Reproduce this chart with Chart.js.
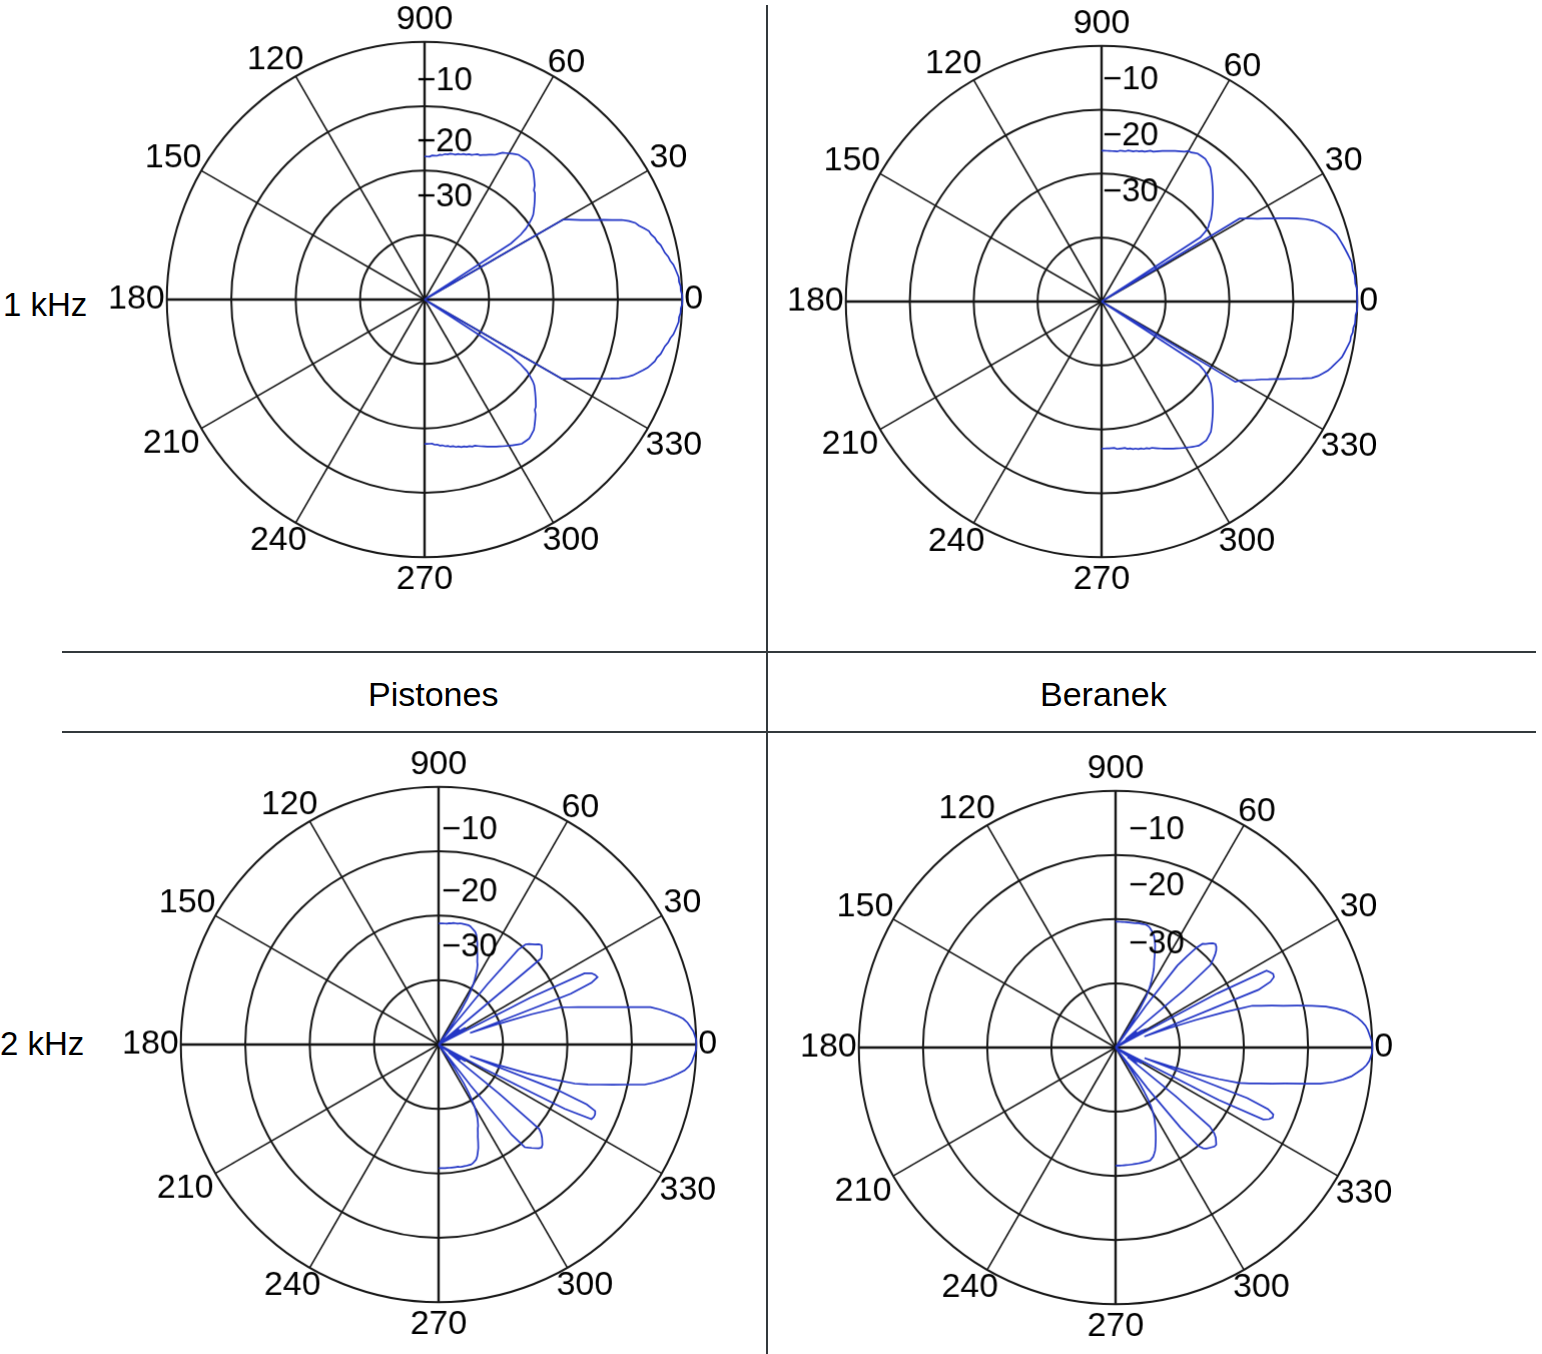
<!DOCTYPE html>
<html>
<head>
<meta charset="utf-8">
<script src="https://cdn.jsdelivr.net/npm/chart.js@4/dist/chart.umd.min.js"></script>
<style>
html,body{margin:0;padding:0;background:#fff;}
body{width:1542px;height:1354px;position:relative;overflow:hidden;font-family:"Liberation Sans",Arial,sans-serif;}
canvas{position:absolute;}
.txt{position:absolute;color:#000;white-space:nowrap;line-height:40px;}
.line{position:absolute;background:#33393c;}
</style>
</head>
<body>
<div class="line" style="left:766px;top:5px;width:2px;height:1349px"></div>
<div class="line" style="left:62px;top:651px;width:1474px;height:2px"></div>
<div class="line" style="left:62px;top:731px;width:1474px;height:2px"></div>
<div class="txt" style="left:3px;top:285px;font-size:33px">1 kHz</div>
<div class="txt" style="left:0px;top:1024px;font-size:33px">2 kHz</div>
<div class="txt" style="left:368px;top:674px;font-size:34px">Pistones</div>
<div class="txt" style="left:1040px;top:674px;font-size:34px">Beranek</div>
<script>
// angular tick labels (as printed on the figure) and radial tick labels
const angleTickLabels = ['0','30','60','900','120','150','180','210','240','270','300','330'];
const radialTickLabels = ['\u221210','\u221220','\u221230'];

// level in dB versus off-axis angle (index = degrees 0..90), upper side (0..90) and lower side (0..-90)
const p1kUpper = [0, 0, -0.2, -0.2, -0.4, -0.4, -0.6, -0.8, -1.0, -1.4,
 -1.6, -2.0, -2.2, -2.4, -2.8, -3.0, -3.4, -3.6, -4.2, -4.8,
 -5.2, -6.0, -7.0, -8.4, -9.6, -10.8, -11.8, -12.8, -13.6, -14.4,
 -15.2, -40, -40, -24, -22, -20.8, -20, -19.2, -18.6, -18.2,
 -17.8, -17.4, -17, -16.6, -16.2, -16, -15.4, -15, -14.6, -14.2,
 -13.8, -13.6, -13.4, -13.2, -13.2, -13.2, -13.2, -13.2, -13.4, -13.6,
 -13.8, -14, -14.2, -14.6, -15, -15.2, -15.4, -15.6, -15.8, -16,
 -16, -16.2, -16.4, -16.4, -16.6, -16.6, -16.8, -16.8, -17, -17,
 -17, -17.2, -17.2, -17.4, -17.4, -17.6, -17.6, -17.6, -17.8, -17.8,
 -17.8];
const p1kLower = [0, 0, -0.2, -0.2, -0.4, -0.4, -0.6, -0.8, -1.0, -1.4,
 -1.6, -2.0, -2.2, -2.4, -2.8, -3.0, -3.4, -3.8, -4.4, -5.0,
 -5.6, -6.4, -7.4, -8.6, -9.8, -11.0, -12.0, -13.0, -13.8, -14.6,
 -15.4, -40, -40, -24, -22, -20.6, -19.8, -19.0, -18.4, -18.0,
 -17.6, -17.2, -16.8, -16.4, -16.0, -15.8, -15.2, -14.8, -14.4, -14.0,
 -13.6, -13.4, -13.2, -13.0, -13.0, -13.0, -13.0, -13.2, -13.4, -13.6,
 -13.8, -14.0, -14.2, -14.4, -14.6, -14.8, -15.0, -15.2, -15.4, -15.6,
 -15.8, -16.0, -16.0, -16.2, -16.2, -16.4, -16.4, -16.6, -16.6, -16.8,
 -16.8, -17.0, -17.0, -17.2, -17.2, -17.4, -17.4, -17.6, -17.6, -17.6,
 -17.6];
const b1kUpper = [0, 0, 0, 0, -0.2, -0.2, -0.2, -0.4, -0.4, -0.4,
 -0.6, -0.8, -1.0, -1.2, -1.4, -1.6, -1.8, -2.2, -2.6, -3.2,
 -3.8, -4.6, -5.6, -6.8, -8.0, -9.2, -10.4, -11.4, -12.4, -13.2,
 -14.0, -14.8, -40, -21.6, -20.4, -19.6, -19.2, -18.6, -18.2, -17.8,
 -17.4, -17.0, -16.6, -16.2, -15.8, -15.4, -15.0, -14.6, -14.2, -13.8,
 -13.4, -13.0, -12.8, -12.6, -12.4, -12.4, -12.4, -12.4, -12.6, -12.8,
 -12.8, -13.2, -13.4, -13.6, -13.8, -14.0, -14.2, -14.4, -14.6, -14.8,
 -15.0, -15.2, -15.2, -15.4, -15.6, -15.6, -15.8, -15.8, -16.0, -16.0,
 -16.0, -16.2, -16.2, -16.2, -16.4, -16.4, -16.4, -16.4, -16.4, -16.4,
 -16.4];
const b1kLower = [0, 0, 0, -0.2, -0.2, -0.2, -0.4, -0.4, -0.6, -0.6,
 -0.8, -1.0, -1.2, -1.4, -1.8, -2.2, -2.6, -3.0, -3.6, -4.2,
 -5.0, -6.4, -7.8, -9.0, -10.2, -11.2, -12.2, -13.0, -13.8, -14.6,
 -15.2, -15.6, -40, -21.8, -20.6, -19.8, -19.2, -18.6, -18.2, -17.8,
 -17.4, -17.0, -16.6, -16.2, -15.8, -15.4, -15.0, -14.6, -14.2, -13.8,
 -13.4, -13.2, -13.0, -12.8, -12.8, -12.8, -12.8, -13.0, -13.2, -13.4,
 -13.6, -13.8, -14.0, -14.2, -14.4, -14.6, -14.8, -15.0, -15.2, -15.4,
 -15.6, -15.8, -15.8, -16.0, -16.0, -16.2, -16.2, -16.4, -16.4, -16.6,
 -16.6, -16.8, -16.8, -16.8, -16.8, -17.0, -17.0, -17.0, -17.0, -17.0,
 -17.0];
const p2kUpper = [0, 0, -0.2, -0.4, -0.8, -1.2, -1.8, -2.8, -4.0, -5.2,
 -6.6, -9.6, -12.0, -14.2, -16.0, -17.6, -19.0, -20.2, -24.8, -30.0,
 -34.8, -18.0, -14.4, -13.2, -13.4, -13.8, -14.8, -24.0, -40, -37.6,
 -36, -35.2, -35.2, -36, -38, -40, -37.6, -36, -36.8, -40,
 -19.2, -18.8, -18.4, -18.1, -17.8, -18.0, -18.4, -18.7, -19.0, -19.4,
 -20.8, -28.0, -36, -40, -40, -38, -36, -33.6, -31.6, -30.4,
 -29.2, -28.4, -27.6, -26.8, -26.2, -25.8, -25.2, -24.6, -24.0, -23.2,
 -22.6, -22.0, -21.6, -21.4, -21.2, -21.0, -20.9, -20.9, -20.9, -20.9,
 -20.9, -21.0, -21.0, -21.0, -21.1, -21.1, -21.2, -21.2, -21.2, -21.2,
 -21.2];
const p2kLower = [0, 0, -0.2, -0.4, -0.6, -1.0, -1.6, -2.6, -3.6, -4.8,
 -6.0, -7.4, -10.1, -12.3, -14.3, -16.0, -18.0, -21.6, -25.6, -30.0,
 -34.8, -20.0, -15.2, -13.6, -13.4, -13.4, -13.6, -18.0, -32, -40,
 -36.8, -35.2, -35.2, -36.8, -40, -37.6, -36, -36, -38, -28,
 -19.6, -18.9, -18.4, -18.0, -17.6, -17.4, -17.6, -18.0, -18.4, -18.8,
 -19.2, -22, -32, -40, -40, -37.6, -35.2, -32.8, -31.2, -30,
 -28.8, -28, -27.2, -26.6, -26, -25.6, -25, -24.4, -23.6, -22.8,
 -22.2, -21.6, -21.2, -21.0, -20.8, -20.7, -20.7, -20.7, -20.7, -20.7,
 -20.7, -20.8, -20.8, -20.8, -20.8, -20.8, -20.8, -20.8, -20.8, -20.8,
 -20.8];
const b2kUpper = [0, 0, -0.2, -0.4, -0.6, -0.9, -1.4, -2.0, -2.8, -3.7,
 -5.0, -6.6, -8.7, -11.0, -13.1, -14.8, -16.4, -17.7, -22, -26.8,
 -31.2, -35.2, -16, -13.8, -13.0, -12.9, -13.2, -13.6, -22, -40,
 -36.8, -35.2, -34.8, -35.2, -36.8, -40, -37.6, -36, -36, -38,
 -26, -20.4, -19.6, -18.8, -18.2, -17.8, -17.6, -17.8, -18.2, -18.6,
 -18.9, -20, -22, -24, -32, -40, -37.6, -35.2, -32.8, -30.8,
 -29.6, -28.8, -28, -27.2, -26.4, -25.8, -25.2, -24.4, -23.6, -22.8,
 -22.2, -21.6, -21.2, -20.9, -20.6, -20.4, -20.3, -20.3, -20.3, -20.3,
 -20.3, -20.4, -20.4, -20.4, -20.4, -20.4, -20.4, -20.4, -20.4, -20.4,
 -20.4];
const b2kLower = [0, 0, -0.2, -0.4, -0.8, -1.4, -2.2, -3.0, -4.2, -5.6,
 -7.6, -10.5, -13.0, -15.0, -16.8, -18.4, -20, -23.2, -26.8, -31.2,
 -35.2, -18, -14.4, -13.3, -13.2, -13.6, -14.4, -22, -40, -37.6,
 -36, -35.2, -36, -37.6, -40, -37.6, -36, -36, -37.6, -28,
 -20.8, -19.6, -19, -18.6, -18.2, -18.2, -18.4, -18.6, -18.8, -19.2,
 -20, -24, -32, -40, -38.4, -36, -33.6, -32, -30.4, -29.2,
 -28.4, -27.6, -27, -26.4, -25.8, -25.2, -24.6, -24, -23.4, -22.8,
 -22.4, -22, -21.8, -21.6, -21.6, -21.6, -21.6, -21.6, -21.6, -21.6,
 -21.6, -21.6, -21.6, -21.6, -21.6, -21.6, -21.6, -21.6, -21.6, -21.6,
 -21.6];

const FONT = "'Liberation Sans', Arial, sans-serif";

// radar index i is drawn i degrees clockwise from the top; it stands for angle 90 - i
function radarLabels() {
  const out = [];
  for (let i = 0; i < 360; i++) {
    const a = ((90 - i) % 360 + 360) % 360;
    out.push(a % 30 === 0 ? angleTickLabels[a / 30] : '');
  }
  return out;
}
function radarData(upper, lower) {
  const out = [];
  for (let i = 0; i < 360; i++) {
    const a = 90 - i;
    if (a >= 0) out.push(upper[a]);
    else if (a >= -90) out.push(lower[-a]);
    else out.push(null);
  }
  return out;
}

// small placement nudges of the angle labels (by angle, in px)
const labelNudge = {30: [0, 9], 60: [-7, 9], 120: [9, 6], 150: [2, 9],
                    210: [0, -6], 240: [12, -4], 300: [-12, -4], 330: [-4, -4]};
const labelNudgePlugin = {
  id: 'labelNudge',
  afterLayout(chart) {
    const sc = chart.scales.r;
    const items = sc && sc._pointLabelItems;
    if (!items) return;
    items.forEach((it, i) => {
      const a = ((90 - i) % 360 + 360) % 360;
      const n = labelNudge[a];
      if (n && it) { it.x += n[0]; it.y += n[1]; }
    });
  }
};

const radialTickPlugin = {
  id: 'radialTicks',
  afterDatasetsDraw(chart, args, opts) {
    const sc = chart.scales.r, ctx = chart.ctx;
    ctx.save();
    ctx.font = '33px ' + FONT;
    ctx.fillStyle = '#000';
    ctx.textAlign = 'left';
    ctx.textBaseline = 'middle';
    radialTickLabels.forEach((t, k) => {
      ctx.fillText(t, sc.xCenter + opts.dx, sc.yCenter - opts.fracs[k] * sc.drawingArea);
    });
    ctx.restore();
  }
};

function makeConfig(p) {
  return {
    type: 'radar',
    data: {
      labels: radarLabels(),
      datasets: [{
        data: radarData(p.upper, p.lower),
        borderColor: '#2437c6',
        borderWidth: 1.7,
        pointRadius: 0, pointHoverRadius: 0, pointHitRadius: 0,
        fill: false, tension: 0, spanGaps: false
      }]
    },
    options: {
      responsive: false, maintainAspectRatio: false, animation: false, events: [],
      layout: {padding: 0},
      plugins: {legend: {display: false}, tooltip: {enabled: false},
        radialTicks: {fracs: p.fracs, dx: p.dx}},
      scales: {
        r: {
          min: -40, max: 0, startAngle: 0,
          ticks: {display: false, stepSize: 10},
          grid: {circular: true, color: '#161616', lineWidth: 2},
          angleLines: {display: true, color: '#161616',
            lineWidth: (ctx) => ctx.index % 90 === 0 ? 2.4 : (ctx.index % 30 === 0 ? 1.6 : 0)},
          pointLabels: {display: true, padding: 2, color: '#000', font: {family: FONT, size: 34}}
        }
      }
    },
    plugins: [labelNudgePlugin, radialTickPlugin]
  };
}

const plots = [
  {cx: 424, cy: 299, R: 257, upper: p1kUpper, lower: p1kLower, fracs: [0.848, 0.612, 0.396], dx: -8},
  {cx: 1101, cy: 301, R: 255, upper: b1kUpper, lower: b1kLower, fracs: [0.865, 0.647, 0.429], dx: 1},
  {cx: 438, cy: 1044, R: 257, upper: p2kUpper, lower: p2kLower, fracs: [0.833, 0.592, 0.377], dx: 3},
  {cx: 1115, cy: 1047, R: 256, upper: b2kUpper, lower: b2kLower, fracs: [0.846, 0.629, 0.404], dx: 13}
];

plots.forEach((p) => {
  let S = 2 * p.R + 180;
  for (let pass = 0; pass < 3; pass++) {
    const cv = document.createElement('canvas');
    cv.width = S; cv.height = S;
    cv.style.width = S + 'px'; cv.style.height = S + 'px';
    document.body.appendChild(cv);
    const chart = new Chart(cv, makeConfig(p));
    const sc = chart.scales.r;
    const d = p.R - sc.drawingArea;
    if (d !== 0 && pass < 2) { chart.destroy(); cv.remove(); S += 2 * d; continue; }
    cv.style.left = (p.cx - sc.xCenter) + 'px';
    cv.style.top = (p.cy - sc.yCenter) + 'px';
    break;
  }
});
</script>
</body>
</html>
